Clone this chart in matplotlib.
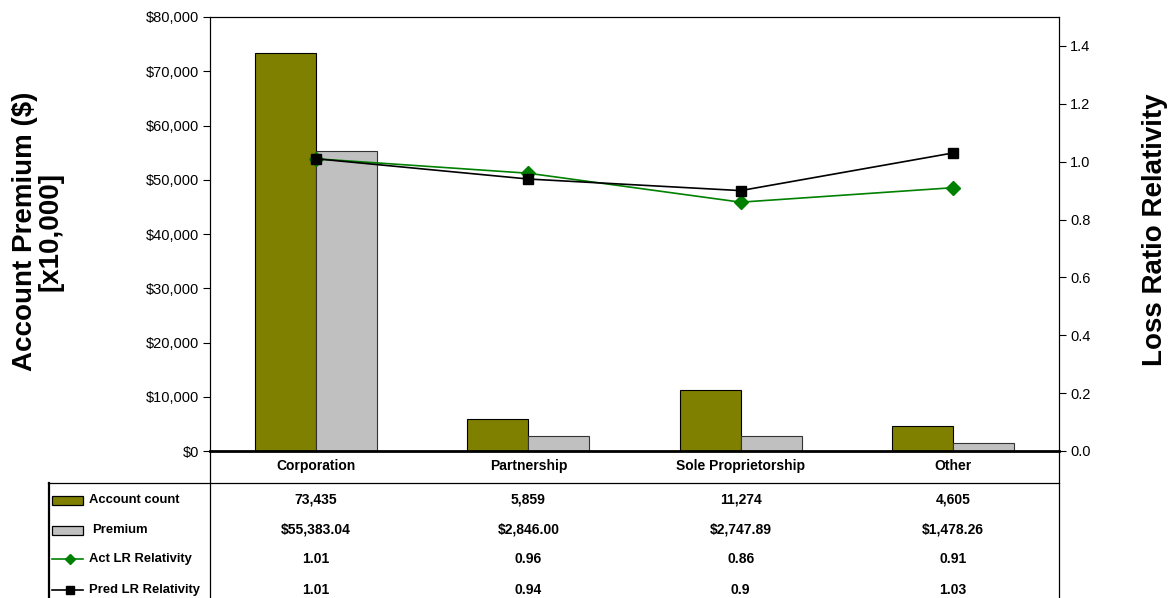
import matplotlib
matplotlib.use("Agg")
import matplotlib.pyplot as plt
from matplotlib.lines import Line2D
from matplotlib.patches import Rectangle
from matplotlib.ticker import FuncFormatter
from matplotlib import font_manager

categories = ["Corporation", "Partnership", "Sole Proprietorship", "Other"]
account_count = [73435, 5859, 11274, 4605]
premium = [55383.04, 2846.00, 2747.89, 1478.26]
act_lr = [1.01, 0.96, 0.86, 0.91]
pred_lr = [1.01, 0.94, 0.9, 1.03]

count_labels = ["73,435", "5,859", "11,274", "4,605"]
premium_labels = ["$55,383.04", "$2,846.00", "$2,747.89", "$1,478.26"]
act_labels = ["1.01", "0.96", "0.86", "0.91"]
pred_labels = ["1.01", "0.94", "0.9", "1.03"]

OLIVE = "#808000"
GREY = "#C0C0C0"
GREEN = "#008000"

installed = {f.name for f in font_manager.fontManager.ttflist}
narrow = "Liberation Sans Narrow" if "Liberation Sans Narrow" in installed else "Liberation Sans"
plt.rcParams["font.family"] = ["Liberation Sans", "DejaVu Sans"]

W, H = 1171, 598
fig = plt.figure(figsize=(W / 100, H / 100), dpi=100)
fig.patch.set_facecolor("white")

# plot area in pixel coordinates
L, R, T, B = 210, 1059, 17, 451
ax = fig.add_axes([L / W, 1 - B / H, (R - L) / W, (B - T) / H])
x = list(range(len(categories)))
unit = (R - L) / 4
bw = 61 / unit

ax.bar([i - bw / 2 for i in x], account_count, width=bw, color=OLIVE,
       edgecolor="black", linewidth=0.8, zorder=2)
ax.bar([i + bw / 2 for i in x], premium, width=bw, color=GREY,
       edgecolor="#333333", linewidth=0.8, zorder=2)
ax.set_xlim(-0.5, 3.5)
ax.set_ylim(0, 80000)
ax.set_yticks(range(0, 80001, 10000))
ax.yaxis.set_major_formatter(FuncFormatter(lambda v, p: "${:,.0f}".format(v)))
ax.set_xticks([])
ax.tick_params(axis="y", direction="out", length=5, width=0.8, labelsize=10.5, pad=3)
for s in ["left", "right", "top"]:
    ax.spines[s].set_linewidth(0.8)
ax.spines["bottom"].set_linewidth(2)

ax2 = ax.twinx()
ax2.plot(x, act_lr, color=GREEN, lw=1.2, marker="D", ms=7, zorder=4)
ax2.plot(x, pred_lr, color="black", lw=1.2, marker="s", ms=6.5, zorder=5)
ax2.set_ylim(0, 1.5)
ax2.set_yticks([0.0, 0.2, 0.4, 0.6, 0.8, 1.0, 1.2, 1.4])
ax2.yaxis.set_major_formatter(FuncFormatter(lambda v, p: "{:.1f}".format(v)))
ax2.tick_params(axis="y", direction="out", length=5, width=0.8, labelsize=10.5, pad=3)
for s in ax2.spines.values():
    s.set_linewidth(0.8)
ax2.spines["bottom"].set_visible(False)

fig.text(38 / W, 1 - 231 / H, "Account Premium ($)\n[x10,000]", rotation=90,
         ha="center", va="center", multialignment="center",
         fontsize=20, fontweight="bold", linespacing=0.95)
fig.text(1155 / W, 1 - 230 / H, "Loss Ratio Relativity", rotation=90,
         ha="center", va="center", fontsize=20, fontweight="bold")

# data table underneath the plot
TL = 48
tab = fig.add_axes([TL / W, 0, (R - TL) / W, 1 - B / H])
tab.set_xlim(-0.5 - (L - TL) / unit, 3.5)
tab.set_ylim(H, B)
tab.axis("off")


def px(v):
    return (v - L) / unit - 0.5


lk = dict(color="black", lw=0.9, clip_on=False)
tab.add_line(Line2D([px(TL), 3.5], [483, 483], **lk))
tab.add_line(Line2D([-0.5, -0.5], [B, H], **lk))
tab.add_line(Line2D([3.5, 3.5], [B, H], **lk))
tab.add_line(Line2D([px(TL + 1), px(TL + 1)], [483, H], lw=1.6, color="black", clip_on=False))

tfont = dict(family=[narrow, "DejaVu Sans"], fontweight="bold", fontsize=10)
for i, c in enumerate(categories):
    tab.text(i, 466, c, ha="center", va="center", **tfont)

rows_y = [500, 530, 559, 590]
for y, labels in zip(rows_y, [count_labels, premium_labels, act_labels, pred_labels]):
    for i, t in enumerate(labels):
        tab.text(i, y, t, ha="center", va="center", **tfont)

# legend keys in the first column
k0, k1 = px(52), px(83)
tab.add_patch(Rectangle((k0, 496), k1 - k0, 8.5, facecolor=OLIVE, edgecolor="black", lw=0.9))
tab.add_patch(Rectangle((k0, 526), k1 - k0, 8.5, facecolor=GREY, edgecolor="black", lw=0.9))
tab.add_line(Line2D([k0, k1], [rows_y[2]] * 2, color=GREEN, lw=1.2))
tab.add_line(Line2D([px(70)], [rows_y[2]], color=GREEN, marker="D", ms=5))
tab.add_line(Line2D([k0, k1], [rows_y[3]] * 2, color="black", lw=1.2))
tab.add_line(Line2D([px(70)], [rows_y[3]], color="black", marker="s", ms=5.5))

rfont = dict(tfont, fontsize=9.4)
tab.text(px(89), rows_y[0], "Account count", ha="left", va="center", **rfont)
tab.text(px(92), rows_y[1], "Premium", ha="left", va="center", **rfont)
tab.text(px(89), rows_y[2], "Act LR Relativity", ha="left", va="center", **rfont)
tab.text(px(89), rows_y[3], "Pred LR Relativity", ha="left", va="center", **rfont)

fig.savefig("out.png", dpi=100)
